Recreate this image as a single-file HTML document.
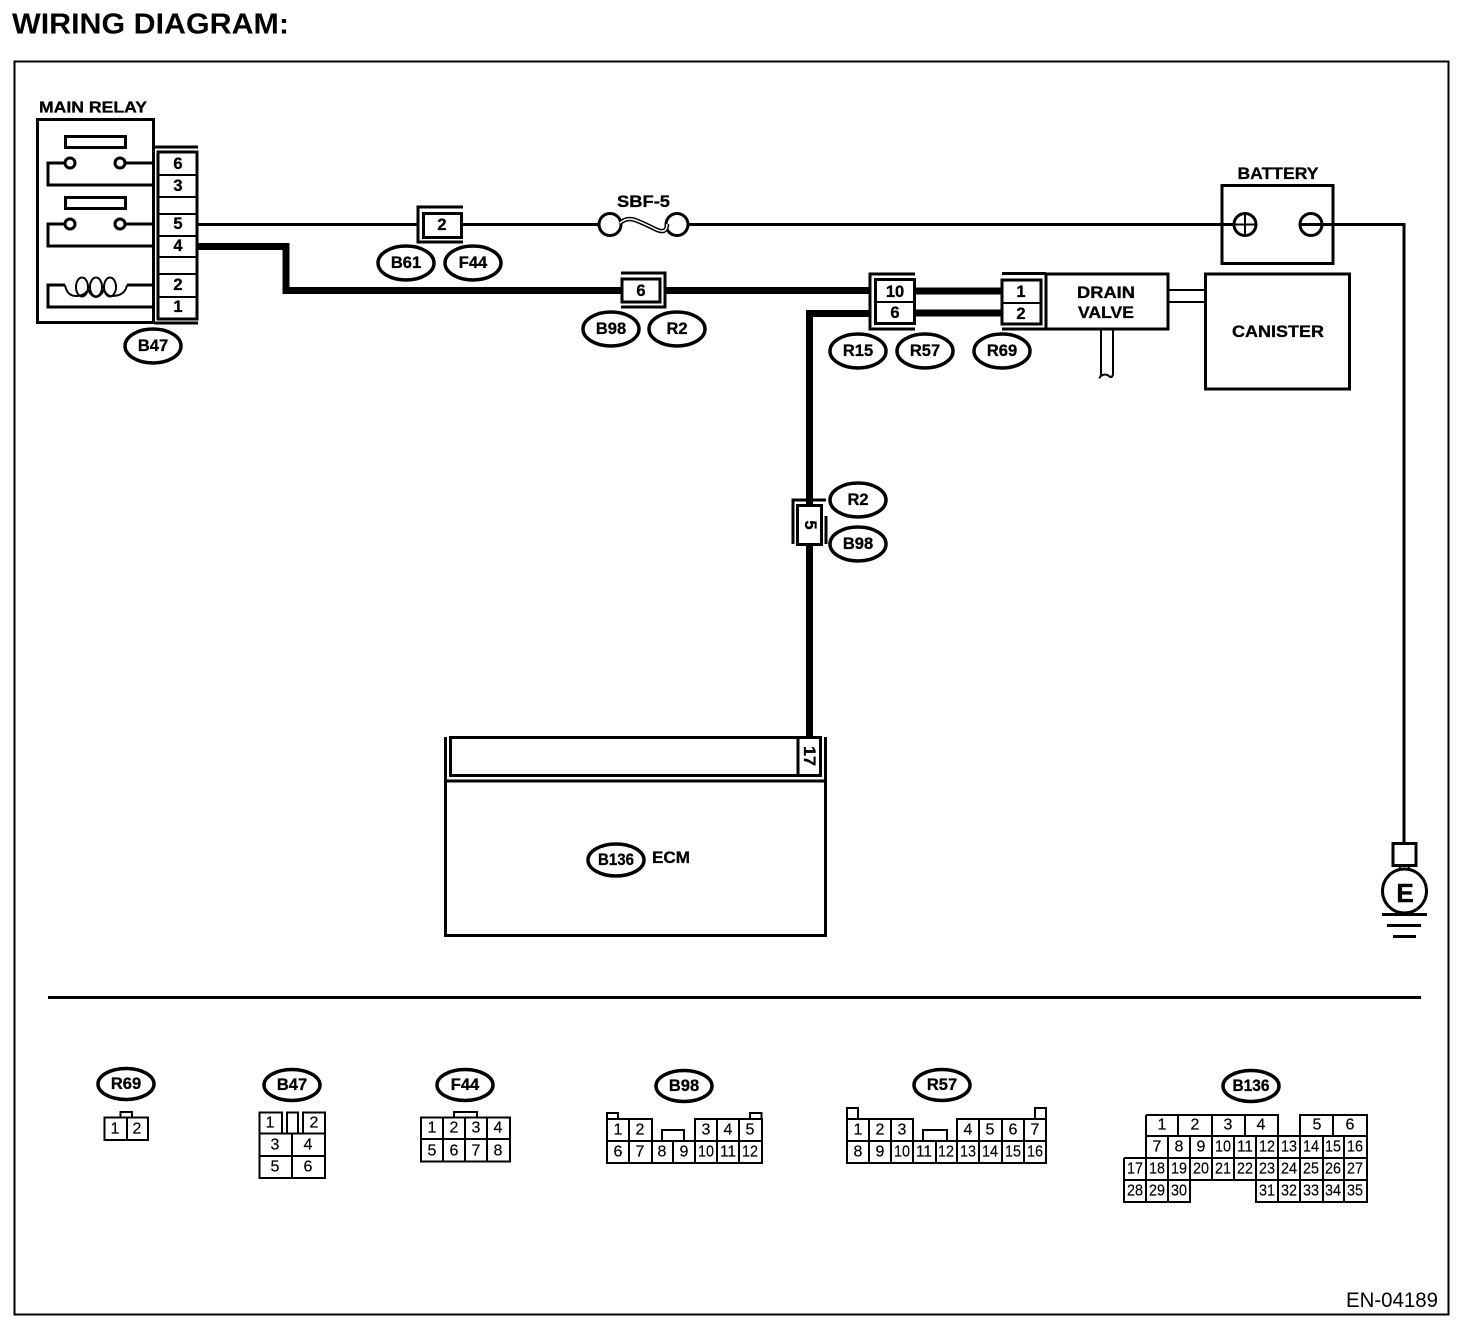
<!DOCTYPE html>
<html><head><meta charset="utf-8"><title>Wiring Diagram</title>
<style>
html,body{margin:0;padding:0;background:#fff}
svg{display:block}
text{font-family:"Liberation Sans",sans-serif;fill:#000}
.b{font-weight:bold;font-size:16.5px;text-anchor:middle;dominant-baseline:central;stroke:#000;stroke-width:.3}
.n{font-size:16px;text-anchor:middle;dominant-baseline:central;stroke:#000;stroke-width:.2}
.l{fill:none;stroke:#000;stroke-width:2}
.t{fill:none;stroke:#000;stroke-width:2;shape-rendering:crispEdges}
.k{fill:none;stroke:#000;stroke-width:2;shape-rendering:crispEdges}
.w{fill:none;stroke:#000;stroke-width:3;shape-rendering:crispEdges}
.e{fill:#fff;stroke:#000;stroke-width:3.5}
</style></head><body>
<svg width="1472" height="1338" viewBox="0 0 1472 1338" xmlns="http://www.w3.org/2000/svg">
<text x="12" y="33.500" font-size="29" font-weight="bold" textLength="277" lengthAdjust="spacingAndGlyphs">WIRING DIAGRAM:</text>
<rect x="14.5" y="61.5" width="1434" height="1253" class="k"/>

<!-- main relay -->
<text x="93" y="108" class="b" style="font-size:15.500px" textLength="108" lengthAdjust="spacingAndGlyphs">MAIN RELAY</text>
<rect x="37.5" y="119.5" width="116" height="203" class="w"/>
<path d="M154 147H198M154 323H198" class="w"/>
<rect x="158" y="152" width="39" height="167" class="w"/>
<path d="M158 175H197M158 197H197M158 214H197M158 236H197M158 257H197M158 274H197M158 297H197" class="k"/>
<text x="178" y="164" class="b">6</text><text x="178" y="186" class="b">3</text>
<text x="178" y="224" class="b">5</text><text x="178" y="246" class="b">4</text>
<text x="178" y="285" class="b">2</text><text x="178" y="307" class="b">1</text>
<rect x="65.5" y="136.5" width="60" height="11" class="w"/>
<rect x="65.5" y="197.5" width="60" height="11" class="w"/>
<path d="M65 163H48V185H154M125 163H154M65 224H48V246H154M125 224H154" class="w"/>
<circle cx="70" cy="163" r="5" class="l" style="fill:#fff;stroke-width:3"/><circle cx="120" cy="163" r="5" class="l" style="fill:#fff;stroke-width:3"/>
<circle cx="70" cy="224" r="5" class="l" style="fill:#fff;stroke-width:3"/><circle cx="120" cy="224" r="5" class="l" style="fill:#fff;stroke-width:3"/>
<path d="M65 285H48V307H154M127 285H154" class="w"/>
<path d="M65 285Q67 296 76 296Q84 296 88 290M88 290Q92 297 96 297Q100 297 104 290M104 290Q108 297 112 296Q125 296 127 285" class="l"/>
<ellipse cx="82" cy="287" rx="6" ry="9.5" class="l"/><ellipse cx="96" cy="287" rx="6" ry="9.5" class="l"/><ellipse cx="110" cy="287" rx="6" ry="9.5" class="l"/>
<ellipse cx="153" cy="346" rx="28" ry="17" class="e"/><text x="153" y="346" class="b">B47</text>

<!-- thin wire -->
<path d="M198 224.5H417M463 224.5H598M688 224.5H1233M1322 224.5H1404V843" class="w"/>
<path d="M463 207H418V242H463" class="w"/>
<rect x="423.500" y="213.500" width="38" height="24" class="w"/>
<text x="442" y="225" class="b">2</text>
<ellipse cx="406" cy="263" rx="28" ry="17" class="e"/><text x="406" y="263" class="b">B61</text>
<ellipse cx="473" cy="263" rx="28" ry="17" class="e"/><text x="473" y="263" class="b">F44</text>
<text x="643.500" y="202" class="b" textLength="53" lengthAdjust="spacingAndGlyphs">SBF-5</text>
<circle cx="610" cy="224.500" r="11" class="l" style="fill:#fff;stroke-width:3"/><circle cx="677" cy="224.500" r="11" class="l" style="fill:#fff;stroke-width:3"/>
<path id="w" d="M620 223Q627 217 635 220T655 229T667 224" style="fill:none;stroke:#000;stroke-width:4.500"/>
<path d="M620 223Q627 217 635 220T655 229T667 224" style="fill:none;stroke:#fff;stroke-width:1.500"/>

<!-- thick wires -->
<path d="M198 246.500H286V290.500H622M666 290.500H875M915 291H1002M915 313H1002" fill="none" stroke="#000" stroke-width="7"/>
<path d="M875 313.500H809.500V738" fill="none" stroke="#000" stroke-width="7"/>
<path d="M621 273H665V307H621" class="w"/>
<rect x="622" y="279" width="38" height="23" class="w" style="fill:#fff"/>
<text x="641" y="291" class="b">6</text>
<ellipse cx="611" cy="329" rx="28" ry="17" class="e"/><text x="611" y="329" class="b">B98</text>
<ellipse cx="677" cy="329" rx="28" ry="17" class="e"/><text x="677" y="329" class="b">R2</text>

<!-- conn 10/6 -->
<path d="M915 274H870V329H915" class="w" style="fill:#fff"/>
<rect x="875.500" y="279.500" width="39" height="44" class="w" style="fill:#fff"/>
<path d="M875 302H915" class="k"/>
<text x="895" y="292" class="b">10</text><text x="895" y="313" class="b">6</text>
<ellipse cx="858" cy="351" rx="28" ry="17" class="e"/><text x="858" y="351" class="b">R15</text>
<ellipse cx="925" cy="351" rx="28" ry="17" class="e"/><text x="925" y="351" class="b">R57</text>
<ellipse cx="1002" cy="351" rx="28" ry="17" class="e"/><text x="1002" y="351" class="b">R69</text>

<!-- drain valve -->
<path d="M1002 273.500H1046M1002 329H1046" class="w"/>
<rect x="1002" y="280" width="39" height="44" class="w" style="fill:#fff"/>
<path d="M1002 303H1041" class="k"/>
<text x="1021" y="292" class="b">1</text><text x="1021" y="314" class="b">2</text>
<rect x="1046" y="274" width="122" height="55" class="w"/>
<text x="1106" y="293" class="b" textLength="58" lengthAdjust="spacingAndGlyphs">DRAIN</text><text x="1106" y="313" class="b" textLength="56" lengthAdjust="spacingAndGlyphs">VALVE</text>
<path d="M1168 290H1206M1168 302H1206" class="k"/>
<path d="M1101 329V374Q1101 377 1099 378M1113 329V374Q1112 379 1109 376Q1105 373 1101 376" class="k" style="shape-rendering:auto"/>
<rect x="1205.500" y="274" width="144" height="115" class="w"/>
<text x="1278" y="332" class="b" textLength="92" lengthAdjust="spacingAndGlyphs">CANISTER</text>

<!-- battery -->
<text x="1278" y="174" class="b" textLength="81" lengthAdjust="spacingAndGlyphs">BATTERY</text>
<rect x="1222" y="185.500" width="111" height="78" class="w"/>
<circle cx="1245" cy="224.500" r="11" class="l" style="fill:#fff;stroke-width:3"/>
<path d="M1234 224.500H1256M1245 214V235" class="k"/>
<circle cx="1311" cy="224.500" r="11" class="l" style="fill:#fff;stroke-width:3"/>
<path d="M1300 224.500H1322" class="w"/>

<!-- ground -->
<rect x="1393" y="843.500" width="23" height="22" class="w"/>
<circle cx="1404.500" cy="891" r="22" class="l" style="fill:#fff;stroke-width:3"/>
<path d="M1400 866V869M1409 866V869" class="k"/>
<text x="1405" y="893" style="font-size:26px;font-weight:bold;text-anchor:middle;dominant-baseline:central;stroke:#000;stroke-width:.5">E</text>
<path d="M1382 914.500H1427M1387 925.500H1421M1393 936.500H1416" class="w"/>

<!-- conn 5 -->
<path d="M826 500H793V544M826 516V544" class="w"/>
<rect x="797.500" y="505.500" width="24" height="39" class="w" style="fill:#fff"/>
<text class="b" transform="translate(810 525) rotate(90)">5</text>
<ellipse cx="858" cy="500" rx="28" ry="17" class="e"/><text x="858" y="500" class="b">R2</text>
<ellipse cx="858" cy="544" rx="28" ry="17" class="e"/><text x="858" y="544" class="b">B98</text>

<!-- ECM -->
<path d="M445.500 737V935.500H825.500V737M445 781H826" class="w"/>
<rect x="450.500" y="737.500" width="370" height="38" class="w" style="fill:#fff"/>
<path d="M798 737V775" class="w"/>
<text class="b" transform="translate(809 756) rotate(90)" textLength="20" lengthAdjust="spacingAndGlyphs">17</text>
<ellipse cx="616" cy="860" rx="28" ry="16" class="e"/><text x="616" y="860" class="b" textLength="36" lengthAdjust="spacingAndGlyphs">B136</text>
<text x="671" y="858" class="b" textLength="38" lengthAdjust="spacingAndGlyphs">ECM</text>

<path d="M48 997.500H1421" class="w"/>

<!-- R69 -->
<ellipse cx="126" cy="1084" rx="28" ry="15.500" class="e"/><text x="126" y="1084" class="b">R69</text>
<path d="M120.500 1117V1112H132V1117M104.500 1117.500H148V1140H104.500ZM127 1117V1140" class="t"/>
<text x="115" y="1129" class="n">1</text><text x="137" y="1129" class="n">2</text>

<!-- B47 -->
<ellipse cx="292" cy="1085" rx="28" ry="15.500" class="e"/><text x="292" y="1085" class="b">B47</text>
<path d="M282 1133V1112.500H259.500V1178H325V1112.500H303V1133M287 1133V1112.500H298V1133M259 1133.500H325M259 1156H325M292 1133V1178" class="t"/>
<text x="270" y="1123" class="n">1</text><text x="314" y="1123" class="n">2</text>
<text x="275" y="1145" class="n">3</text><text x="308" y="1145" class="n">4</text>
<text x="275" y="1167" class="n">5</text><text x="308" y="1167" class="n">6</text>

<!-- F44 -->
<ellipse cx="465" cy="1085" rx="28" ry="15.500" class="e"/><text x="465" y="1085" class="b">F44</text>
<path d="M454 1117V1112H477V1117M421 1117.500H510V1161.500H421ZM421 1139H510M443 1117V1162M465 1117V1162M487 1117V1162" class="t"/>
<text x="432" y="1128" class="n">1</text><text x="454" y="1128" class="n">2</text><text x="476" y="1128" class="n">3</text><text x="498" y="1128" class="n">4</text>
<text x="432" y="1151" class="n">5</text><text x="454" y="1151" class="n">6</text><text x="476" y="1151" class="n">7</text><text x="498" y="1151" class="n">8</text>

<!-- B98 -->
<ellipse cx="684" cy="1086" rx="28" ry="15.500" class="e"/><text x="684" y="1086" class="b">B98</text>
<path d="M607 1119V1113H618V1119M750 1119V1113H761.500V1119M662 1141V1130H684V1141M607 1119V1163H762V1119H695V1163M607 1119H652V1163M607 1141H762M629 1119V1163M673 1141V1163M717 1119V1163M739 1119V1163" class="t"/>
<text x="618" y="1130" class="n">1</text><text x="640" y="1130" class="n">2</text><text x="706" y="1130" class="n">3</text><text x="728" y="1130" class="n">4</text><text x="750" y="1130" class="n">5</text>
<text x="618" y="1152" class="n">6</text><text x="640" y="1152" class="n">7</text><text x="662" y="1152" class="n">8</text><text x="684" y="1152" class="n">9</text><text x="706" y="1152" class="n" textLength="16" lengthAdjust="spacingAndGlyphs">10</text><text x="728" y="1152" class="n" textLength="16" lengthAdjust="spacingAndGlyphs">11</text><text x="750" y="1152" class="n" textLength="16" lengthAdjust="spacingAndGlyphs">12</text>

<!-- R57 -->
<ellipse cx="942" cy="1085" rx="28" ry="15.500" class="e"/><text x="942" y="1085" class="b">R57</text>
<path d="M847 1119V1108H858V1119M1035 1119V1108H1046V1119M923 1141V1130H947V1141M847 1119V1163H1046V1119H957V1163M847 1119H913V1163M847 1141H1046M869 1119V1163M891 1119V1163M936 1141V1163M979 1119V1163M1002 1119V1163M1024 1119V1163" class="t"/>
<text x="858" y="1130" class="n">1</text><text x="880" y="1130" class="n">2</text><text x="902" y="1130" class="n">3</text><text x="968" y="1130" class="n">4</text><text x="990" y="1130" class="n">5</text><text x="1013" y="1130" class="n">6</text><text x="1035" y="1130" class="n">7</text>
<text x="858" y="1152" class="n">8</text><text x="880" y="1152" class="n">9</text><text x="902" y="1152" class="n" textLength="16" lengthAdjust="spacingAndGlyphs">10</text><text x="924" y="1152" class="n" textLength="16" lengthAdjust="spacingAndGlyphs">11</text><text x="946" y="1152" class="n" textLength="16" lengthAdjust="spacingAndGlyphs">12</text><text x="968" y="1152" class="n" textLength="16" lengthAdjust="spacingAndGlyphs">13</text><text x="990" y="1152" class="n" textLength="16" lengthAdjust="spacingAndGlyphs">14</text><text x="1013" y="1152" class="n" textLength="16" lengthAdjust="spacingAndGlyphs">15</text><text x="1035" y="1152" class="n" textLength="16" lengthAdjust="spacingAndGlyphs">16</text>

<!-- B136 -->
<ellipse cx="1251" cy="1086" rx="28" ry="15.500" class="e"/><text x="1251" y="1086" class="b" textLength="37" lengthAdjust="spacingAndGlyphs">B136</text>
<path d="M1146 1115H1278V1158M1146 1115V1158M1178 1115V1136M1212 1115V1158M1245 1115V1136M1300 1158V1115H1367V1202H1256V1158M1333 1115V1136M1146 1136H1367M1124 1158H1367M1124 1180H1367M1124 1158V1202H1190V1158M1146 1158V1202M1168 1136V1202M1190 1136V1158M1234 1136V1180M1212 1158V1180M1256 1136V1180M1278 1158V1202M1300 1158V1202M1323 1136V1202M1344 1136V1202" class="t"/>
<path d="M1300 1136V1158M1278 1136V1158" class="t"/>
<text x="1162" y="1125" class="n">1</text><text x="1195" y="1125" class="n">2</text><text x="1228" y="1125" class="n">3</text><text x="1261" y="1125" class="n">4</text><text x="1317" y="1125" class="n">5</text><text x="1350" y="1125" class="n">6</text>
<text x="1157" y="1147" class="n">7</text><text x="1179" y="1147" class="n">8</text><text x="1201" y="1147" class="n">9</text>
<text x="1223" y="1147" class="n" textLength="16" lengthAdjust="spacingAndGlyphs">10</text><text x="1245" y="1147" class="n" textLength="16" lengthAdjust="spacingAndGlyphs">11</text><text x="1267" y="1147" class="n" textLength="16" lengthAdjust="spacingAndGlyphs">12</text><text x="1289" y="1147" class="n" textLength="16" lengthAdjust="spacingAndGlyphs">13</text><text x="1311" y="1147" class="n" textLength="16" lengthAdjust="spacingAndGlyphs">14</text><text x="1333" y="1147" class="n" textLength="16" lengthAdjust="spacingAndGlyphs">15</text><text x="1355" y="1147" class="n" textLength="16" lengthAdjust="spacingAndGlyphs">16</text>
<text x="1135" y="1169" class="n" textLength="16" lengthAdjust="spacingAndGlyphs">17</text><text x="1157" y="1169" class="n" textLength="16" lengthAdjust="spacingAndGlyphs">18</text><text x="1179" y="1169" class="n" textLength="16" lengthAdjust="spacingAndGlyphs">19</text><text x="1201" y="1169" class="n" textLength="16" lengthAdjust="spacingAndGlyphs">20</text><text x="1223" y="1169" class="n" textLength="16" lengthAdjust="spacingAndGlyphs">21</text><text x="1245" y="1169" class="n" textLength="16" lengthAdjust="spacingAndGlyphs">22</text><text x="1267" y="1169" class="n" textLength="16" lengthAdjust="spacingAndGlyphs">23</text><text x="1289" y="1169" class="n" textLength="16" lengthAdjust="spacingAndGlyphs">24</text><text x="1311" y="1169" class="n" textLength="16" lengthAdjust="spacingAndGlyphs">25</text><text x="1333" y="1169" class="n" textLength="16" lengthAdjust="spacingAndGlyphs">26</text><text x="1355" y="1169" class="n" textLength="16" lengthAdjust="spacingAndGlyphs">27</text>
<text x="1135" y="1191" class="n" textLength="16" lengthAdjust="spacingAndGlyphs">28</text><text x="1157" y="1191" class="n" textLength="16" lengthAdjust="spacingAndGlyphs">29</text><text x="1179" y="1191" class="n" textLength="16" lengthAdjust="spacingAndGlyphs">30</text>
<text x="1267" y="1191" class="n" textLength="16" lengthAdjust="spacingAndGlyphs">31</text><text x="1289" y="1191" class="n" textLength="16" lengthAdjust="spacingAndGlyphs">32</text><text x="1311" y="1191" class="n" textLength="16" lengthAdjust="spacingAndGlyphs">33</text><text x="1333" y="1191" class="n" textLength="16" lengthAdjust="spacingAndGlyphs">34</text><text x="1355" y="1191" class="n" textLength="16" lengthAdjust="spacingAndGlyphs">35</text>

<text x="1346" y="1307" font-size="21" textLength="92" lengthAdjust="spacingAndGlyphs">EN-04189</text>
</svg>
</body></html>
